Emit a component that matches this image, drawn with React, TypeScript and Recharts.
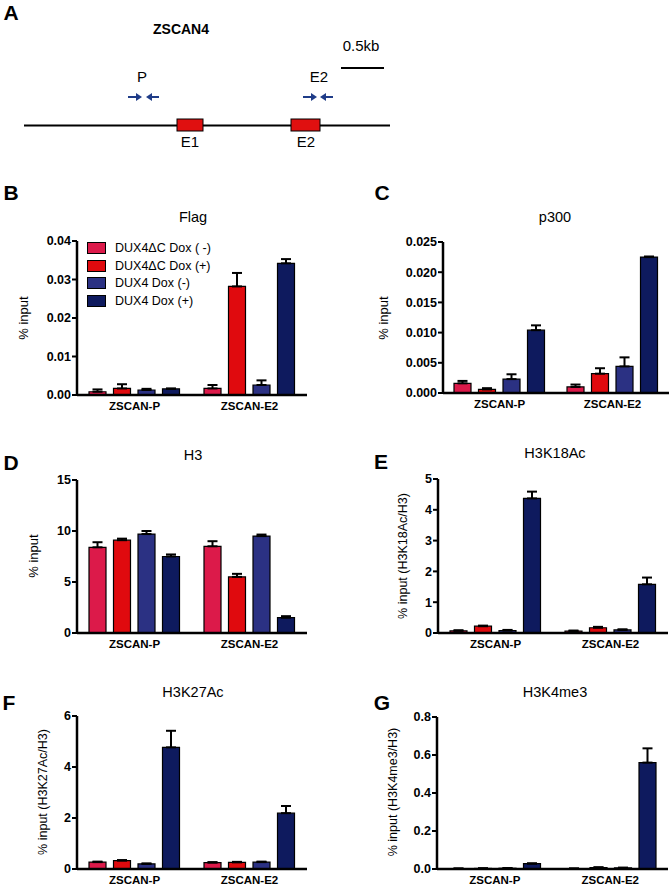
import { BarChart, Bar, XAxis, YAxis, ErrorBar, Legend } from "recharts";

const categories = ["ZSCAN-P", "ZSCAN-E2"];
const seriesNames = ["DUX4ΔC Dox ( -)", "DUX4ΔC Dox (+)", "DUX4 Dox (-)", "DUX4 Dox (+)"];
const COLORS = ["#dc1a4a", "#e00a0e", "#2b3183", "#0e1a5e"];

// one value per series, for each amplicon
const flagP = [0.00085, 0.0017, 0.0013, 0.0016];
const flagPErr = [0.0006, 0.0011, 0.0003, 0.0001];
const flagE2 = [0.0017, 0.0282, 0.0026, 0.0342];
const flagE2Err = [0.0009, 0.0035, 0.0012, 0.0011];
const flagTicks = [0, 0.01, 0.02, 0.03, 0.04];

const p300P = [0.0016, 0.0006, 0.0023, 0.0104];
const p300PErr = [0.0004, 0.0002, 0.0008, 0.0008];
const p300E2 = [0.001, 0.0032, 0.0044, 0.0225];
const p300E2Err = [0.0004, 0.0009, 0.0015, 0.0001];
const p300Ticks = [0, 0.005, 0.01, 0.015, 0.02, 0.025];

const h3P = [8.4, 9.1, 9.7, 7.5];
const h3PErr = [0.5, 0.15, 0.3, 0.2];
const h3E2 = [8.5, 5.5, 9.5, 1.5];
const h3E2Err = [0.5, 0.3, 0.15, 0.15];
const h3Ticks = [0, 5, 10, 15];

const k18P = [0.07, 0.22, 0.08, 4.37];
const k18PErr = [0.02, 0.02, 0.02, 0.22];
const k18E2 = [0.06, 0.17, 0.1, 1.58];
const k18E2Err = [0.02, 0.03, 0.02, 0.22];
const k18Ticks = [0, 1, 2, 3, 4, 5];

const k27P = [0.27, 0.33, 0.2, 4.77];
const k27PErr = [0.02, 0.02, 0.02, 0.65];
const k27E2 = [0.25, 0.26, 0.27, 2.19];
const k27E2Err = [0.02, 0.02, 0.02, 0.28];
const k27Ticks = [0, 2, 4, 6];

const k4P = [0.002, 0.003, 0.004, 0.028];
const k4PErr = [0.001, 0.001, 0.001, 0.002];
const k4E2 = [0.002, 0.008, 0.006, 0.56];
const k4E2Err = [0.001, 0.001, 0.001, 0.075];
const k4Ticks = [0, 0.2, 0.4, 0.6, 0.8];

const FONT = '"Liberation Sans", Arial, sans-serif';

function rows(p: number[], pErr: number[], e2: number[], e2Err: number[]) {
  return categories.map((c, i) => {
    const m = i === 0 ? p : e2;
    const e = i === 0 ? pErr : e2Err;
    const r: any = { name: c };
    m.forEach((v, k) => {
      r["s" + k] = v;
      r["e" + k] = [0, e[k]];
    });
    return r;
  });
}

function Txt({ x, y, children, size = 14, bold = false, rotate = false }: any) {
  return (
    <div
      style={{
        position: "absolute",
        left: x,
        top: y,
        transform: `translate(-50%, -50%)${rotate ? " rotate(-90deg)" : ""}`,
        fontSize: size,
        fontWeight: bold ? "bold" : "normal",
        lineHeight: 1,
        whiteSpace: "nowrap",
        color: "#000",
      }}
    >
      {children}
    </div>
  );
}

function LegendBox() {
  return (
    <div style={{ fontFamily: FONT, fontSize: 12.5, color: "#000" }}>
      {seriesNames.map((n, k) => (
        <div key={k} style={{ display: "flex", alignItems: "center", height: 17.7 }}>
          <span
            style={{
              display: "inline-block",
              width: 17,
              height: 10,
              background: COLORS[k],
              border: "1.2px solid #000",
              marginRight: 9,
            }}
          />
          {n}
        </div>
      ))}
    </div>
  );
}

function Panel(props: any) {
  const { data, ticks, fmt, plotL, plotR, plotT, plotB, side, legend } = props;
  const L = side === "left" ? 0 : 336;
  const W = 336;
  const T = plotT - 20;
  const H = plotB + 30 - T;
  return (
    <div style={{ position: "absolute", left: L, top: T }}>
      <BarChart
        width={W}
        height={H}
        data={data}
        margin={{ top: 20, right: L + W - plotR, bottom: 0, left: 0 }}
        barGap={7.5}
        barSize={17}
      >
        <XAxis
          dataKey="name"
          height={30}
          interval={0}
          axisLine={{ stroke: "#000", strokeWidth: 2.5 }}
          tickLine={false}
          tickSize={0}
          tickMargin={7}
          tick={{ fill: "#000", fontSize: 11.5, fontWeight: "bold", fontFamily: FONT }}
        />
        <YAxis
          width={plotL - L}
          domain={[ticks[0], ticks[ticks.length - 1]]}
          ticks={ticks}
          interval={0}
          tickFormatter={fmt}
          axisLine={{ stroke: "#000", strokeWidth: 2.5 }}
          tickLine={{ stroke: "#000", strokeWidth: 2 }}
          tickSize={5}
          tickMargin={1}
          tick={{ fill: "#000", fontSize: 12.5, fontWeight: "bold", fontFamily: FONT }}
        />
        {legend && (
          <Legend
            layout="vertical"
            align="center"
            verticalAlign="middle"
            wrapperStyle={{ left: 87 - L, top: 239 - T, width: 200 }}
            content={() => <LegendBox />}
          />
        )}
        {seriesNames.map((n, k) => (
          <Bar
            key={k}
            dataKey={"s" + k}
            name={n}
            fill={COLORS[k]}
            stroke="#000"
            strokeWidth={1.2}
            isAnimationActive={false}
          >
            <ErrorBar
              dataKey={"e" + k}
              direction="y"
              width={5}
              stroke="#000"
              strokeWidth={2}
              isAnimationActive={false}
            />
          </Bar>
        ))}
      </BarChart>
    </div>
  );
}

function GeneMap() {
  const navy = "#1f3c88";
  const arrow = (x1: number, x2: number) => {
    const dir = x2 > x1 ? 1 : -1;
    return (
      <g>
        <line x1={x1} y1={97} x2={x2 - dir * 4} y2={97} stroke={navy} strokeWidth={2} />
        <polygon points={`${x2},97 ${x2 - dir * 6},93 ${x2 - dir * 6},101`} fill={navy} />
      </g>
    );
  };
  return (
    <svg width={672} height={160} style={{ position: "absolute", left: 0, top: 0 }}>
      <line x1={341} y1={68} x2={384} y2={68} stroke="#000" strokeWidth={2} />
      {arrow(128, 142)}
      {arrow(159, 146)}
      {arrow(303, 317)}
      {arrow(333, 320)}
      <line x1={24} y1={125.5} x2={390} y2={125.5} stroke="#000" strokeWidth={2} />
      <rect x={177} y={119} width={26} height={12} fill="#e01010" stroke="#000" strokeWidth={1} />
      <rect x={291} y={119} width={29} height={12} fill="#e01010" stroke="#000" strokeWidth={1} />
    </svg>
  );
}

const two = (v: number) => v.toFixed(2);
const three = (v: number) => v.toFixed(3);
const one = (v: number) => v.toFixed(1);
const int = (v: number) => String(v);

export default function App() {
  return (
    <div
      style={{
        position: "absolute",
        left: 0,
        top: 0,
        width: 672,
        height: 887,
        background: "#fff",
        fontFamily: FONT,
        overflow: "hidden",
      }}
    >
      <GeneMap />
      <Txt x={11} y={12} size={21} bold>A</Txt>
      <Txt x={181} y={29} size={14} bold>ZSCAN4</Txt>
      <Txt x={361} y={45} size={15}>0.5kb</Txt>
      <Txt x={142} y={76} size={15}>P</Txt>
      <Txt x={319} y={76} size={15}>E2</Txt>
      <Txt x={190} y={141} size={15}>E1</Txt>
      <Txt x={306} y={141} size={15}>E2</Txt>

      <Panel
        side="left"
        data={rows(flagP, flagPErr, flagE2, flagE2Err)}
        ticks={flagTicks}
        fmt={two}
        plotL={77}
        plotR={307}
        plotT={241}
        plotB={395}
        legend
      />
      <Txt x={11} y={192} size={21} bold>B</Txt>
      <Txt x={193} y={217} size={14.5}>Flag</Txt>
      <Txt x={23} y={318} size={13} rotate>% input</Txt>

      <Panel
        side="right"
        data={rows(p300P, p300PErr, p300E2, p300E2Err)}
        ticks={p300Ticks}
        fmt={three}
        plotL={443}
        plotR={669}
        plotT={242}
        plotB={393}
      />
      <Txt x={382} y={192} size={21} bold>C</Txt>
      <Txt x={555} y={217} size={14.5}>p300</Txt>
      <Txt x={383} y={318} size={13} rotate>% input</Txt>

      <Panel
        side="left"
        data={rows(h3P, h3PErr, h3E2, h3E2Err)}
        ticks={h3Ticks}
        fmt={int}
        plotL={77}
        plotR={307}
        plotT={480}
        plotB={633}
      />
      <Txt x={11} y={462} size={21} bold>D</Txt>
      <Txt x={193} y={455} size={14.5}>H3</Txt>
      <Txt x={33} y={556} size={13} rotate>% input</Txt>

      <Panel
        side="right"
        data={rows(k18P, k18PErr, k18E2, k18E2Err)}
        ticks={k18Ticks}
        fmt={int}
        plotL={438}
        plotR={668}
        plotT={479}
        plotB={633}
      />
      <Txt x={381} y={461} size={21} bold>E</Txt>
      <Txt x={555} y={453} size={14.5}>H3K18Ac</Txt>
      <Txt x={403} y={556} size={12.5} rotate>% input (H3K18Ac/H3)</Txt>

      <Panel
        side="left"
        data={rows(k27P, k27PErr, k27E2, k27E2Err)}
        ticks={k27Ticks}
        fmt={int}
        plotL={77}
        plotR={307}
        plotT={716}
        plotB={869}
      />
      <Txt x={9} y={702} size={21} bold>F</Txt>
      <Txt x={193} y={692} size={14.5}>H3K27Ac</Txt>
      <Txt x={43} y={792} size={12.5} rotate>% input (H3K27Ac/H3)</Txt>

      <Panel
        side="right"
        data={rows(k4P, k4PErr, k4E2, k4E2Err)}
        ticks={k4Ticks}
        fmt={one}
        plotL={437}
        plotR={668}
        plotT={717}
        plotB={869}
      />
      <Txt x={382} y={702} size={21} bold>G</Txt>
      <Txt x={555} y={692} size={14.5}>H3K4me3</Txt>
      <Txt x={393} y={792} size={12.5} rotate>% input (H3K4me3/H3)</Txt>
    </div>
  );
}
